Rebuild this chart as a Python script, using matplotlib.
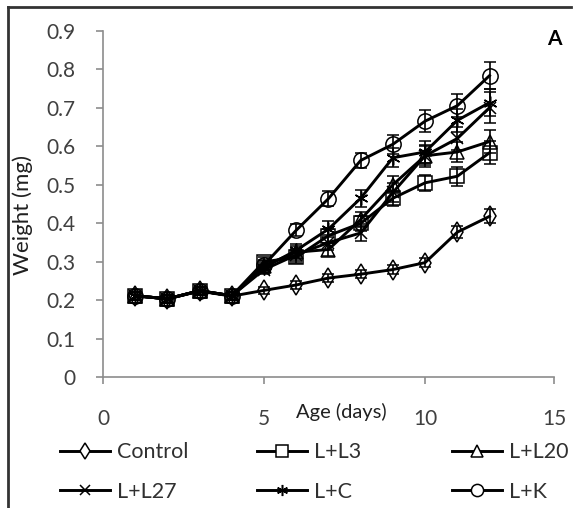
import numpy as np
import matplotlib
matplotlib.use('Agg')
from matplotlib import pyplot as plt
from matplotlib.lines import Line2D

plt.rcParams['font.family'] = ['Lato', 'DejaVu Sans']

# age in days
days = [1, 2, 3, 4, 5, 6, 7, 8, 9, 10, 11, 12]

# mean larval weight (mg) per diet
control = [0.212, 0.204, 0.224, 0.211, 0.226, 0.240, 0.258, 0.268, 0.280, 0.298, 0.377, 0.418]
l_l3    = [0.212, 0.204, 0.225, 0.212, 0.300, 0.312, 0.368, 0.400, 0.465, 0.505, 0.522, 0.583]
l_l20   = [0.212, 0.204, 0.225, 0.212, 0.290, 0.325, 0.332, 0.410, 0.500, 0.575, 0.585, 0.612]
l_l27   = [0.212, 0.204, 0.225, 0.212, 0.280, 0.318, 0.350, 0.375, 0.480, 0.575, 0.620, 0.700]
l_c     = [0.212, 0.204, 0.225, 0.212, 0.285, 0.330, 0.385, 0.465, 0.570, 0.585, 0.667, 0.713]
l_k     = [0.212, 0.204, 0.225, 0.212, 0.292, 0.382, 0.464, 0.563, 0.605, 0.665, 0.705, 0.783]

# standard errors
control_err = [0.01, 0.01, 0.01, 0.01, 0.01, 0.01, 0.01, 0.01, 0.012, 0.012, 0.015, 0.018]
l_l3_err    = [0.01, 0.01, 0.01, 0.01, 0.012, 0.015, 0.018, 0.02, 0.02, 0.02, 0.025, 0.03]
l_l20_err   = [0.01, 0.01, 0.01, 0.01, 0.012, 0.015, 0.018, 0.02, 0.022, 0.025, 0.025, 0.03]
l_l27_err   = [0.01, 0.01, 0.01, 0.01, 0.012, 0.015, 0.02, 0.022, 0.025, 0.028, 0.03, 0.04]
l_c_err     = [0.01, 0.01, 0.01, 0.01, 0.012, 0.015, 0.02, 0.022, 0.025, 0.028, 0.03, 0.035]
l_k_err     = [0.01, 0.01, 0.01, 0.01, 0.012, 0.015, 0.02, 0.02, 0.025, 0.028, 0.03, 0.035]

fig = plt.figure(figsize=(5.74, 5.08), dpi=100)
ax = fig.add_axes([0.1794, 0.2569, 0.7857, 0.683])

# x axis is linear up to day 12, the tail to 15 is squeezed
def fwd(x):
    x = np.asarray(x, dtype=float)
    return np.where(x <= 12, x, 12 + (x - 12) * 2 / 3)

def inv(x):
    x = np.asarray(x, dtype=float)
    return np.where(x <= 12, x, 12 + (x - 12) * 1.5)

ax.set_xscale('function', functions=(fwd, inv))

LW = 2.1
MEW = 1.1
styles = {}

def draw(y, err, marker, ms, label):
    ax.errorbar(days, y, yerr=err, color='black', linewidth=LW,
                marker=marker, markersize=ms, markerfacecolor='none',
                markeredgecolor='black', markeredgewidth=MEW,
                ecolor='black', elinewidth=1.2, capsize=4.5, capthick=1.2)
    styles[label] = (marker, ms)

draw(control, control_err, 'd', 10, 'Control')
draw(l_l3, l_l3_err, 's', 10.5, 'L+L3')
draw(l_l20, l_l20_err, '^', 10, 'L+L20')
draw(l_l27, l_l27_err, 'x', 9, 'L+L27')
draw(l_c, l_c_err, (6, 2, 0), 10, 'L+C')
draw(l_k, l_k_err, 'o', 11, 'L+K')

ax.set_xlim(0, 15)
ax.set_ylim(0, 0.9)
ax.set_xticks([0, 5, 10, 15])
ax.set_xticklabels(['0', '5', '10', '15'])
ax.minorticks_off()
ax.set_yticks(np.arange(0, 0.91, 0.1))
ax.set_yticklabels(['0', '0.1', '0.2', '0.3', '0.4', '0.5', '0.6', '0.7', '0.8', '0.9'])

for s in ['top', 'right']:
    ax.spines[s].set_visible(False)
for s in ['left', 'bottom']:
    ax.spines[s].set_color('#8c8c8c')
    ax.spines[s].set_linewidth(1.2)

ax.tick_params(axis='both', colors='#8c8c8c', labelcolor='#404040',
               labelsize=15, length=5, width=1.2, direction='out')
ax.tick_params(axis='y', pad=15)
ax.tick_params(axis='x', pad=18)

ax.set_xlabel('Age (days)', fontsize=14.5, color='#202020')
ax.xaxis.set_label_coords(0.528, -0.10)
ax.xaxis.label.set_va('center')
ax.set_ylabel('Weight (mg)', fontsize=16, color='#202020')
ax.yaxis.set_label_coords(-0.155, 0.468)

ax.text(1.0, 0.975, 'A', transform=ax.transAxes, fontsize=15,
        fontweight='bold', ha='center', va='center')

# legend: one column per legend so the column starts can be placed
columns = [('Control', 'L+L27'), ('L+L3', 'L+C'), ('L+L20', 'L+K')]
col_x = [60 / 574, 257 / 574, 452 / 574]
for names, x0 in zip(columns, col_x):
    hs = [Line2D([], [], color='black', linewidth=LW, marker=styles[n][0],
                 markersize=styles[n][1] * 0.8, markerfacecolor='white',
                 markeredgecolor='black', markeredgewidth=MEW) for n in names]
    leg = fig.legend(hs, names, loc='upper left', bbox_to_anchor=(x0, 0.129),
                     frameon=False, fontsize=15.5, handlelength=2.3,
                     handletextpad=0.35, labelspacing=0.9, borderpad=0,
                     borderaxespad=0)
    for t in leg.get_texts():
        t.set_color('#303030')

# outer frame
fig.add_artist(Line2D([0.0145, 0.0145], [0.0, 0.987], transform=fig.transFigure,
                      color='#333333', linewidth=2))
fig.add_artist(Line2D([0.0145, 0.995], [0.987, 0.987], transform=fig.transFigure,
                      color='#333333', linewidth=2))

fig.savefig('out.png', dpi=100)
